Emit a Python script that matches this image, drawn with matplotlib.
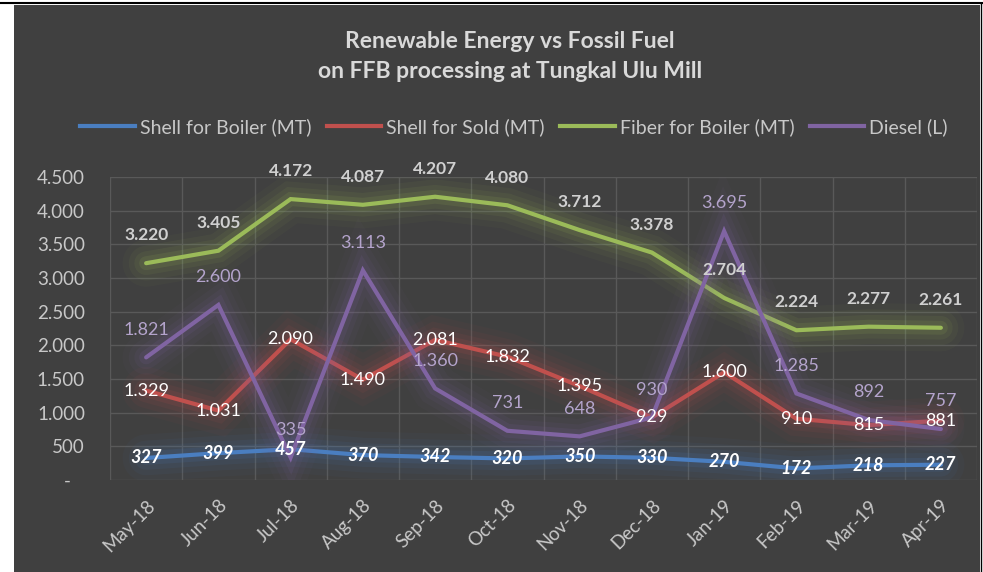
import matplotlib
matplotlib.use('Agg')
import matplotlib.pyplot as plt
import matplotlib.patheffects as pe
from matplotlib.patches import Rectangle
from matplotlib.lines import Line2D
from matplotlib.ticker import FuncFormatter, MultipleLocator
import numpy as np

plt.rcParams['font.family'] = ['Lato', 'DejaVu Sans']

# data
months = ['May-18', 'Jun-18', 'Jul-18', 'Aug-18', 'Sep-18', 'Oct-18',
          'Nov-18', 'Dec-18', 'Jan-19', 'Feb-19', 'Mar-19', 'Apr-19']
shell_boiler = [327, 399, 457, 370, 342, 320, 350, 330, 270, 172, 218, 227]
shell_sold = [1329, 1031, 2090, 1490, 2081, 1832, 1395, 929, 1600, 910, 815, 881]
fiber_boiler = [3220, 3405, 4172, 4087, 4207, 4080, 3712, 3378, 2704, 2224, 2277, 2261]
diesel = [1821, 2600, 335, 3113, 1360, 731, 648, 930, 3695, 1285, 892, 757]

BG = '#404040'
GRID = '#595959'
TXT = '#C8C8C8'

fig = plt.figure(figsize=(9.83, 5.72), dpi=100, facecolor='white')
fig.patches.append(Rectangle((14/983, 0), (980-14)/983, 1-5/572, transform=fig.transFigure,
                             facecolor=BG, edgecolor='none', zorder=-10))
fig.lines.append(Line2D([0, 1], [1-3/572, 1-3/572], transform=fig.transFigure, color='black', lw=1.5))
fig.lines.append(Line2D([981/983, 981/983], [0, 1-3/572], transform=fig.transFigure, color='black', lw=1))

ax = fig.add_axes([110/983, 1-480/572, (977-110)/983, (480-177)/572])
ax.set_facecolor(BG)
x = np.arange(len(months))


def glow(color):
    return [pe.Stroke(linewidth=34, foreground=color, alpha=0.04),
            pe.Stroke(linewidth=25, foreground=color, alpha=0.06),
            pe.Stroke(linewidth=17, foreground=color, alpha=0.08),
            pe.Stroke(linewidth=10, foreground=color, alpha=0.12),
            pe.Normal()]


series = [
    ('Shell for Boiler (MT)', shell_boiler, '#4A7EC0'),
    ('Shell for Sold (MT)', shell_sold, '#C0504D'),
    ('Fiber for Boiler (MT)', fiber_boiler, '#9BBB59'),
    ('Diesel (L)', diesel, '#8064A2'),
]

handles = []
for i, (name, vals, col) in enumerate(series):
    ax.plot(x, vals, color=col, lw=3, solid_capstyle='round', solid_joinstyle='miter',
            path_effects=glow(col), zorder=3 + i)
    handles.append(Line2D([], [], color=col, lw=3, label=name))


def fmt(v):
    return f'{v:,}'.replace(',', '.')


for xi, v in zip(x, fiber_boiler):
    ax.annotate(fmt(v), (xi, v), xytext=(0, 20), textcoords='offset points', ha='center', va='center',
                color='#D0D0D0', fontsize=12.5, fontweight='bold', zorder=10)
for xi, v in zip(x, diesel):
    ax.annotate(fmt(v), (xi, v), xytext=(0, 20), textcoords='offset points', ha='center', va='center',
                color='#B4A4CC', fontsize=13, zorder=10)
for xi, v in zip(x, shell_sold):
    ax.annotate(fmt(v), (xi, v), ha='center', va='center', color='white', fontsize=13, zorder=10)
for xi, v in zip(x, shell_boiler):
    ax.annotate(fmt(v), (xi, v), ha='center', va='center', color='white', fontsize=13,
                fontweight='bold', fontstyle='italic', zorder=10)

ax.set_xlim(-0.5, len(months) - 0.5)
ax.set_ylim(0, 4500)
ax.yaxis.set_major_locator(MultipleLocator(500))
ax.yaxis.set_major_formatter(FuncFormatter(lambda v, p: '-   ' if v == 0 else fmt(int(v))))
ax.set_xticks(x)
ax.set_xticklabels(months, rotation=45, ha='right', rotation_mode='anchor')
ax.set_xticks(np.arange(-0.5, len(months)), minor=True)
ax.tick_params(axis='both', which='both', length=0, colors=TXT, labelsize=13.5)
ax.tick_params(axis='y', pad=18)
ax.tick_params(axis='x', pad=12)
ax.grid(True, axis='y', color=GRID, lw=1, zorder=0)
ax.grid(True, axis='x', which='minor', color=GRID, lw=1, zorder=0)
ax.set_axisbelow(True)
for s in ax.spines.values():
    s.set_visible(False)

fig.text(510/983, 1-42/572, 'Renewable Energy vs Fossil Fuel', ha='center', va='center',
         color='#D9D9D9', fontsize=16.5, fontweight='bold')
fig.text(510/983, 1-72/572, 'on FFB processing at Tungkal Ulu Mill', ha='center', va='center',
         color='#D9D9D9', fontsize=16.5, fontweight='bold')

fig.legend(handles=handles, loc='center', bbox_to_anchor=(514/983, 1-127/572), ncol=4,
           frameon=False, fontsize=14, labelcolor=TXT, handlelength=2.8, handletextpad=0.25,
           columnspacing=0.8)

fig.savefig('out.png', dpi=100, facecolor=fig.get_facecolor())
